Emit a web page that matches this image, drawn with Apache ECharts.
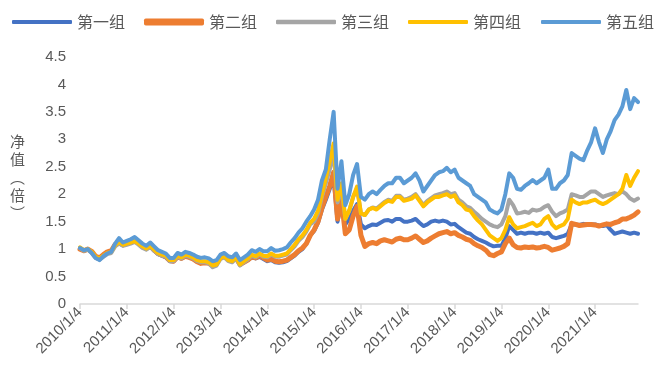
<!DOCTYPE html>
<html>
<head>
<meta charset="utf-8">
<script src="https://cdn.jsdelivr.net/npm/echarts@6/dist/echarts.min.js"></script>
<style>
html,body{margin:0;padding:0;background:#fff;}
#chart{width:660px;height:387px;}
</style>
</head>
<body>
<div id="chart"></div>
<script>
// Monthly samples, Jan 2010 .. Dec 2021
const years = [2010,2011,2012,2013,2014,2015,2016,2017,2018,2019,2020,2021];
const seriesNames = ['第一组','第二组','第三组','第四组','第五组'];
const yTicks = [0,0.5,1,1.5,2,2.5,3,3.5,4,4.5];

const group1 = [
 1.01,0.97,0.99,0.95,0.86,0.83,0.89,0.94,0.96,1.07,1.12,1.07,
 1.10,1.13,1.16,1.10,1.04,1.00,1.05,0.97,0.91,0.88,0.85,0.78,
 0.78,0.86,0.83,0.87,0.85,0.82,0.77,0.75,0.76,0.75,0.70,0.74,
 0.85,0.88,0.82,0.79,0.84,0.72,0.76,0.80,0.85,0.83,0.86,0.82,
 0.78,0.80,0.76,0.75,0.76,0.78,0.83,0.88,0.95,1.00,1.10,1.25,
 1.33,1.48,1.72,1.90,2.10,2.30,1.50,1.85,1.45,1.55,1.70,1.82,
 1.45,1.38,1.42,1.45,1.44,1.48,1.52,1.53,1.50,1.55,1.55,1.50,
 1.50,1.52,1.55,1.48,1.42,1.45,1.50,1.52,1.50,1.52,1.50,1.45,
 1.46,1.40,1.35,1.30,1.28,1.22,1.18,1.15,1.12,1.08,1.05,1.06,
 1.06,1.20,1.42,1.35,1.28,1.30,1.28,1.30,1.30,1.28,1.30,1.28,
 1.30,1.22,1.20,1.22,1.24,1.28,1.45,1.45,1.44,1.46,1.45,1.45,
 1.45,1.43,1.42,1.44,1.35,1.28,1.30,1.32,1.30,1.28,1.30,1.28
];
const group2 = [
 1.00,0.97,1.00,0.96,0.87,0.84,0.90,0.95,0.97,1.08,1.12,1.08,
 1.12,1.15,1.18,1.12,1.06,1.02,1.06,0.98,0.92,0.89,0.86,0.79,
 0.78,0.86,0.83,0.87,0.85,0.82,0.77,0.74,0.75,0.74,0.70,0.74,
 0.86,0.88,0.82,0.79,0.84,0.72,0.76,0.80,0.86,0.84,0.88,0.84,
 0.80,0.82,0.78,0.77,0.78,0.80,0.85,0.90,0.97,1.02,1.10,1.25,
 1.35,1.50,1.75,1.95,2.15,2.40,1.55,1.90,1.28,1.35,1.60,1.78,
 1.25,1.05,1.10,1.12,1.10,1.15,1.17,1.15,1.13,1.18,1.20,1.17,
 1.17,1.20,1.24,1.18,1.12,1.15,1.20,1.24,1.28,1.30,1.32,1.28,
 1.30,1.25,1.22,1.18,1.16,1.10,1.06,1.03,0.98,0.90,0.88,0.92,
 0.95,1.10,1.20,1.08,1.03,1.02,1.04,1.03,1.04,1.02,1.03,1.05,
 1.03,0.98,1.00,1.02,1.05,1.10,1.47,1.45,1.43,1.44,1.45,1.45,
 1.44,1.42,1.44,1.46,1.45,1.48,1.50,1.55,1.55,1.58,1.62,1.68
];
const group3 = [
 1.02,0.97,0.99,0.93,0.84,0.81,0.86,0.91,0.93,1.05,1.10,1.06,
 1.08,1.10,1.13,1.08,1.02,0.99,1.04,0.97,0.91,0.88,0.86,0.78,
 0.78,0.86,0.83,0.88,0.86,0.83,0.78,0.76,0.76,0.74,0.67,0.70,
 0.82,0.85,0.78,0.76,0.83,0.70,0.76,0.81,0.88,0.85,0.90,0.86,
 0.85,0.90,0.86,0.86,0.88,0.90,0.98,1.05,1.15,1.22,1.32,1.45,
 1.50,1.65,1.95,2.20,2.45,2.75,1.85,2.10,1.55,1.70,1.95,2.10,
 1.65,1.62,1.72,1.76,1.74,1.80,1.86,1.90,1.88,1.97,1.97,1.90,
 1.92,1.95,2.00,1.90,1.80,1.88,1.93,1.98,2.00,2.02,2.05,2.00,
 2.02,1.90,1.85,1.78,1.75,1.68,1.62,1.55,1.50,1.45,1.42,1.40,
 1.45,1.60,1.90,1.80,1.65,1.66,1.68,1.66,1.72,1.70,1.72,1.77,
 1.80,1.68,1.60,1.65,1.68,1.72,2.00,1.98,1.95,1.95,2.00,2.05,
 2.05,2.00,1.95,1.98,2.00,2.02,2.00,2.05,2.00,1.92,1.88,1.92
];
const group4 = [
 1.03,0.98,1.00,0.95,0.86,0.83,0.88,0.93,0.95,1.07,1.13,1.08,
 1.10,1.12,1.15,1.10,1.05,1.01,1.06,0.99,0.93,0.90,0.88,0.80,
 0.80,0.88,0.85,0.90,0.88,0.85,0.80,0.78,0.78,0.76,0.70,0.72,
 0.84,0.87,0.80,0.78,0.85,0.72,0.78,0.83,0.90,0.87,0.92,0.88,
 0.87,0.92,0.88,0.88,0.90,0.92,1.00,1.08,1.18,1.25,1.35,1.48,
 1.55,1.70,2.00,2.30,2.60,2.93,1.90,2.20,1.55,1.70,1.95,2.14,
 1.65,1.62,1.72,1.75,1.72,1.78,1.84,1.88,1.86,1.95,1.95,1.88,
 1.90,1.92,1.98,1.88,1.78,1.85,1.90,1.95,1.95,1.98,2.00,1.95,
 1.98,1.85,1.80,1.72,1.70,1.60,1.52,1.45,1.35,1.25,1.20,1.15,
 1.20,1.35,1.58,1.45,1.38,1.40,1.42,1.45,1.48,1.42,1.45,1.55,
 1.60,1.45,1.38,1.42,1.45,1.55,1.90,1.85,1.82,1.85,1.85,1.88,
 1.90,1.85,1.82,1.85,1.90,1.95,2.00,2.10,2.35,2.15,2.30,2.42
];
const group5 = [
 1.02,0.98,1.00,0.93,0.84,0.80,0.87,0.92,0.95,1.10,1.20,1.12,
 1.15,1.18,1.22,1.16,1.10,1.06,1.12,1.05,0.98,0.95,0.92,0.84,
 0.84,0.93,0.90,0.95,0.93,0.90,0.86,0.84,0.85,0.83,0.78,0.80,
 0.90,0.93,0.87,0.85,0.92,0.80,0.85,0.90,0.98,0.95,1.00,0.96,
 0.96,1.02,0.97,0.98,1.00,1.03,1.12,1.20,1.30,1.38,1.50,1.60,
 1.72,1.90,2.25,2.45,3.00,3.50,2.10,2.60,1.80,2.00,2.35,2.55,
 1.95,1.90,2.00,2.05,2.00,2.08,2.15,2.20,2.20,2.30,2.30,2.20,
 2.25,2.30,2.38,2.25,2.05,2.15,2.25,2.35,2.40,2.42,2.48,2.40,
 2.45,2.30,2.25,2.20,2.15,2.00,1.95,1.90,1.85,1.72,1.68,1.65,
 1.72,2.00,2.38,2.30,2.10,2.08,2.15,2.20,2.26,2.20,2.25,2.30,
 2.45,2.10,2.10,2.20,2.25,2.35,2.75,2.70,2.65,2.62,2.80,2.95,
 3.20,2.95,2.75,3.00,3.15,3.35,3.45,3.60,3.90,3.55,3.75,3.68
];

const categories = [];
years.forEach(function (y) {
  for (let m = 1; m <= 12; m++) categories.push(m === 1 ? y + '/1/4' : y + '/' + m + '/1');
});

const colors = ['#4472C4','#ED7D31','#A5A5A5','#FFC000','#5B9BD5'];
const widths = [4,5,4,4,4];
const legendLeft = [12,144,276,408,541];
const legendThick = [4,7,4.5,4,4];
const allData = [group1, group2, group3, group4, group5];

const chart = echarts.init(document.getElementById('chart'), null, {renderer:'canvas'});
const isYearStart = function (idx) { return idx % 12 === 0; };

chart.setOption({
  animation: false,
  color: colors,
  textStyle: {fontFamily: 'Liberation Sans, Arial, sans-serif'},
  grid: {left: 80, right: 22, top: 57, bottom: 83, containLabel: false},
  legend: seriesNames.map(function (n, i) {
    return {
      left: legendLeft[i], top: 14, padding: 0,
      itemWidth: 60, itemHeight: legendThick[i], icon: 'roundRect',
      textStyle: {fontFamily: '"Noto Sans CJK SC", sans-serif', fontSize: 16, color: '#595959'},
      data: [n]
    };
  }),
  graphic: [{
    type: 'text', left: 10, top: 132,
    style: {
      text: '净\n值\n︵\n倍\n︶',
      font: '15px "Noto Sans CJK SC", sans-serif',
      fill: '#595959', lineHeight: 18, align: 'center'
    }
  }],
  xAxis: {
    type: 'category', data: categories, boundaryGap: false,
    axisLine: {lineStyle: {color: '#D9D9D9', width: 1.5}},
    axisTick: {show: true, interval: isYearStart, length: 5, lineStyle: {color: '#D9D9D9', width: 1.5}},
    axisLabel: {interval: isYearStart, rotate: 45, fontSize: 15, color: '#595959', margin: 6,
      fontFamily: 'Liberation Sans, Arial, sans-serif'},
    splitLine: {show: false}
  },
  yAxis: {
    type: 'value', min: yTicks[0], max: yTicks[yTicks.length - 1], interval: 0.5,
    axisLine: {show: false}, axisTick: {show: false}, splitLine: {show: false},
    axisLabel: {fontSize: 15, color: '#595959', margin: 14,
      fontFamily: 'Liberation Sans, Arial, sans-serif'}
  },
  series: seriesNames.map(function (n, i) {
    return {
      name: n, type: 'line', data: allData[i], symbol: 'none', showSymbol: false,
      lineStyle: {width: widths[i], color: colors[i], cap: 'round', join: 'round'},
      itemStyle: {color: colors[i]},
      z: 2 + i
    };
  })
});
</script>
</body>
</html>
